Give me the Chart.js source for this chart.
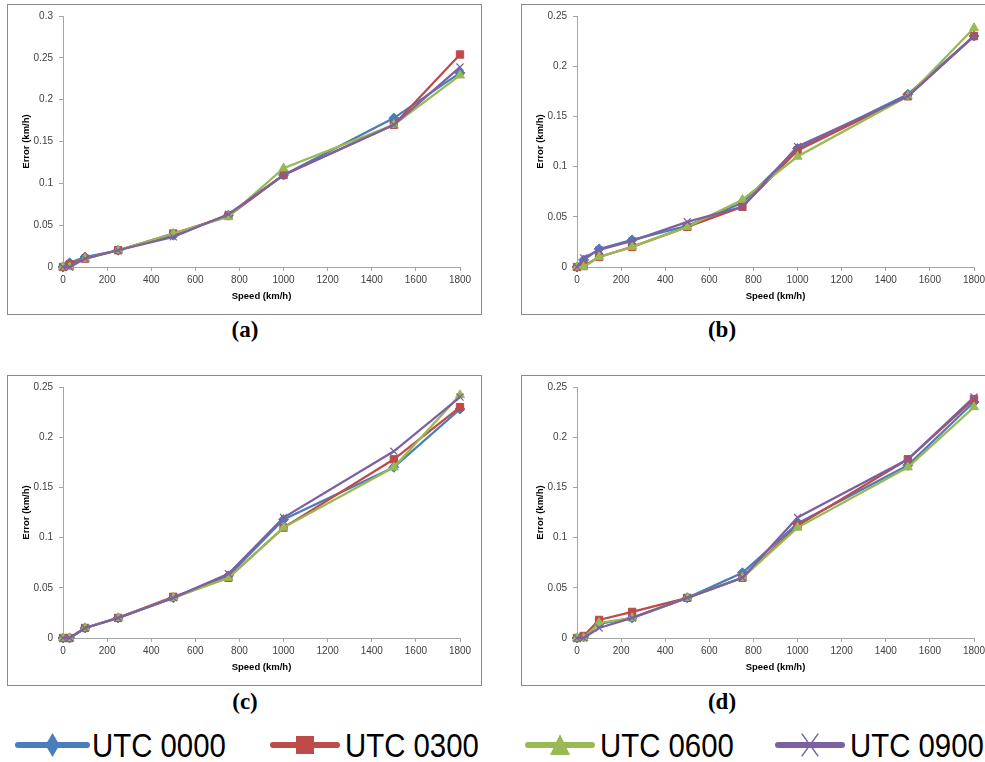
<!DOCTYPE html>
<html><head><meta charset="utf-8">
<script src="https://cdn.jsdelivr.net/npm/chart.js@4.4.0/dist/chart.umd.min.js"></script>
<style>
html,body{margin:0;padding:0;background:#fff;}
#root{position:relative;width:985px;height:762px;overflow:hidden;background:#fff;}
.frame{position:absolute;box-sizing:border-box;border:1.5px solid #8a8a8a;width:475px;height:311px;}
.cv{position:absolute;}
.lab{position:absolute;font-family:"Liberation Serif","Times New Roman",serif;font-weight:bold;font-size:23px;color:#000;transform:translate(-50%,-50%);white-space:nowrap;}
.legtxt{position:absolute;font-family:"Liberation Sans",Arial,sans-serif;font-size:33px;color:#000;line-height:1;white-space:nowrap;transform-origin:0 50%;transform:translateY(-50%) scaleX(0.89);}
.legmk{position:absolute;}
</style></head>
<body><div id="root"></div>
<script>
// ---- data ----
const speeds = [0, 30, 100, 250, 500, 750, 1000, 1500, 1800];
const seriesNames = ['UTC 0000', 'UTC 0300', 'UTC 0600', 'UTC 0900'];
const panelLabels = ['(a)', '(b)', '(c)', '(d)'];
const yMaxes = [0.3, 0.25, 0.25, 0.25];

const a_utc0000 = [0, 0.005, 0.012, 0.02, 0.038, 0.062, 0.11, 0.178, 0.232];
const a_utc0300 = [0, 0.003, 0.01, 0.02, 0.04, 0.061, 0.11, 0.17, 0.254];
const a_utc0600 = [0, 0, 0.01, 0.02, 0.04, 0.06, 0.118, 0.17, 0.229];
const a_utc0900 = [0, 0, 0.01, 0.02, 0.036, 0.063, 0.11, 0.17, 0.239];

const b_utc0000 = [0, 0.007, 0.018, 0.027, 0.041, 0.064, 0.118, 0.172, 0.23];
const b_utc0300 = [0, 0.001, 0.01, 0.02, 0.04, 0.06, 0.116, 0.17, 0.23];
const b_utc0600 = [0, 0, 0.01, 0.02, 0.04, 0.067, 0.11, 0.17, 0.238];
const b_utc0900 = [0, 0.009, 0.017, 0.026, 0.045, 0.06, 0.12, 0.17, 0.23];

const c_utc0000 = [0, 0, 0.01, 0.02, 0.04, 0.062, 0.118, 0.17, 0.228];
const c_utc0300 = [0, 0, 0.01, 0.02, 0.041, 0.06, 0.11, 0.178, 0.23];
const c_utc0600 = [0, 0, 0.01, 0.02, 0.04, 0.06, 0.11, 0.17, 0.242];
const c_utc0900 = [0, 0, 0.01, 0.02, 0.04, 0.064, 0.12, 0.186, 0.24];

const d_utc0000 = [0, 0.001, 0.014, 0.02, 0.04, 0.065, 0.114, 0.172, 0.235];
const d_utc0300 = [0, 0.002, 0.018, 0.026, 0.04, 0.06, 0.112, 0.178, 0.238];
const d_utc0600 = [0, 0, 0.015, 0.02, 0.04, 0.06, 0.11, 0.17, 0.23];
const d_utc0900 = [0, 0, 0.01, 0.02, 0.04, 0.06, 0.12, 0.178, 0.24];

const panelData = [
  [a_utc0000, a_utc0300, a_utc0600, a_utc0900],
  [b_utc0000, b_utc0300, b_utc0600, b_utc0900],
  [c_utc0000, c_utc0300, c_utc0600, c_utc0900],
  [d_utc0000, d_utc0300, d_utc0600, d_utc0900]
];

// ---- styles ----
const colors = ['#4A7EBB', '#BE4B48', '#98B954', '#7D60A0'];
const pStyles = ['rectRot', 'rect', 'triangle', 'crossRot'];
const pRadius = [5, 5.2, 5.2, 5];
const frames = [[7, 4], [521, 4], [7, 375], [521, 375]];
const labelPos = [[245, 330], [722, 330], [245, 702], [722, 702]];
const W = 475, H = 310;
const axisColor = '#a6a6a6';
const tickFont = {family: '"Liberation Sans",Arial,sans-serif', size: 10};
const titleFont = {family: '"Liberation Sans",Arial,sans-serif', size: 9.5, weight: 'bold'};

const root = document.getElementById('root');

function fmt(v) { return String(parseFloat(Number(v).toFixed(2))); }

panelData.forEach((series, p) => {
  const [fx, fy] = frames[p];
  const cv = document.createElement('canvas');
  cv.className = 'cv';
  cv.width = W; cv.height = H;
  cv.style.left = fx + 'px'; cv.style.top = fy + 'px';
  cv.style.width = W + 'px'; cv.style.height = H + 'px';
  root.appendChild(cv);
  const fr = document.createElement('div');
  fr.className = 'frame';
  fr.style.left = fx + 'px'; fr.style.top = fy + 'px';
  root.appendChild(fr);
  const lab = document.createElement('div');
  lab.className = 'lab';
  lab.textContent = panelLabels[p];
  lab.style.left = labelPos[p][0] + 'px'; lab.style.top = labelPos[p][1] + 'px';
  root.appendChild(lab);

  const datasets = series.map((vals, i) => ({
    label: seriesNames[i],
    data: speeds.map((s, k) => ({x: s, y: vals[k]})),
    borderColor: colors[i],
    backgroundColor: colors[i],
    pointBackgroundColor: colors[i],
    pointBorderColor: colors[i],
    borderWidth: 2.25,
    pointStyle: pStyles[i],
    pointRadius: pRadius[i],
    pointBorderWidth: i === 3 ? 1.2 : 1,
    tension: 0,
    clip: false,
    order: 4 - i
  }));

  new Chart(cv.getContext('2d'), {
    type: 'line',
    data: {datasets},
    options: {
      responsive: false,
      animation: false,
      devicePixelRatio: 1,
      layout: {padding: {top: 12, right: 22, left: 0, bottom: 0}},
      plugins: {legend: {display: false}, tooltip: {enabled: false}},
      scales: {
        x: {
          type: 'linear', min: 0, max: 1800,
          ticks: {stepSize: 200, color: '#404040', font: tickFont, padding: 3, maxRotation: 0, autoSkip: false, callback: v => String(v)},
          grid: {drawOnChartArea: false, drawTicks: true, tickLength: 4, color: axisColor},
          border: {color: axisColor, width: 1},
          title: {display: true, text: 'Speed (km/h)', font: titleFont, color: '#000', padding: {top: 0, bottom: 12}},
          afterFit(s) { s.height = 47; }
        },
        y: {
          type: 'linear', min: 0, max: yMaxes[p],
          ticks: {stepSize: 0.05, color: '#404040', font: tickFont, padding: 6, callback: fmt},
          grid: {drawOnChartArea: false, drawTicks: true, tickLength: 4, color: axisColor},
          border: {color: axisColor, width: 1},
          title: {display: true, text: 'Error (km/h)', font: titleFont, color: '#000', padding: {top: 14, bottom: 0}},
          afterFit(s) { s.width = 56; }
        }
      }
    }
  });
});

// ---- legend ----
const legLines = [[15, 90], [270, 340], [525, 595], [775, 845]];
const legText = [92, 345, 600, 850];
const legY = 745;
function drawMarker(ctx, type, color, cx, cy) {
  ctx.fillStyle = color; ctx.strokeStyle = color;
  ctx.beginPath();
  if (type === 'rectRot') {
    ctx.moveTo(cx, cy - 12); ctx.lineTo(cx + 7, cy); ctx.lineTo(cx, cy + 12); ctx.lineTo(cx - 7, cy); ctx.closePath(); ctx.fill();
  } else if (type === 'rect') {
    ctx.rect(cx - 9, cy - 9, 18, 18); ctx.fill();
  } else if (type === 'triangle') {
    ctx.moveTo(cx, cy - 11); ctx.lineTo(cx + 10, cy + 10); ctx.lineTo(cx - 10, cy + 10); ctx.closePath(); ctx.fill();
  } else {
    ctx.lineWidth = 1.3;
    ctx.moveTo(cx - 8, cy - 11); ctx.lineTo(cx + 8, cy + 11);
    ctx.moveTo(cx + 8, cy - 11); ctx.lineTo(cx - 8, cy + 11); ctx.stroke();
  }
}
seriesNames.forEach((name, i) => {
  const [x0, x1] = legLines[i];
  const c = document.createElement('canvas');
  c.className = 'legmk';
  c.width = x1 - x0; c.height = 36;
  c.style.left = x0 + 'px'; c.style.top = (legY - 18) + 'px';
  root.appendChild(c);
  const ctx = c.getContext('2d');
  ctx.strokeStyle = colors[i]; ctx.lineWidth = 6; ctx.lineCap = 'round';
  ctx.beginPath(); ctx.moveTo(3, 18); ctx.lineTo(c.width - 3, 18); ctx.stroke();
  drawMarker(ctx, pStyles[i], colors[i], c.width / 2, 18);
  const t = document.createElement('div');
  t.className = 'legtxt';
  t.textContent = name;
  t.style.left = legText[i] + 'px'; t.style.top = legY + 'px';
  root.appendChild(t);
});
</script>
</body></html>
